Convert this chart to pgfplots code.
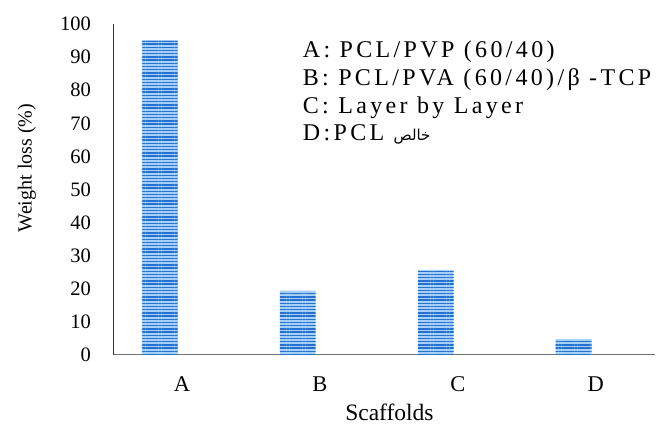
\documentclass[border=0pt]{standalone}
\usepackage{pgfplots}
\pgfplotsset{compat=1.18}
\usetikzlibrary{patterns.meta}
\usepackage{fontspec}
\setmainfont{Liberation Serif}
\newfontfamily\legfont[LetterSpace=14]{Liberation Serif}
\newfontfamily\arabicfont[Script=Arabic]{DejaVu Sans}
\TeXXeTstate=1
\definecolor{barlight}{HTML}{A6D0F5}
\definecolor{bardark}{HTML}{2470CC}

\begin{document}
\begin{tikzpicture}
  \begin{axis}[
      scale only axis,
      width=542pt, height=331pt,
      ybar,
      bar width=0.26,
      bar shift=-0.16,
      xmin=-0.5, xmax=3.43,
      ymin=0, ymax=100,
      xtick={0,1,2,3},
      xticklabels={A,B,C,D},
      ytick={0,10,...,100},
      axis x line=bottom, axis y line=left,
      x axis line style={-, draw=black!55, line width=1pt},
      y axis line style={-, draw=black!80, line width=0.8pt},
      major tick length=0pt,
      /pgf/number format/assume math mode=true,
      yticklabel style={anchor=east, inner sep=0pt, xshift=-22pt,
        font=\fontsize{20.5}{24}\selectfont},
      xticklabel style={anchor=base, inner sep=0pt, yshift=-37pt,
        font=\fontsize{22.5}{26}\selectfont},
      xlabel={Scaffolds},
      ylabel={Weight loss (\%)},
      every axis x label/.style={at={(axis description cs:0.51,-0.146)}, anchor=north,
        inner sep=0pt, font=\fontsize{23.5}{27}\selectfont},
      every axis y label/.style={at={(axis description cs:-0.159,0.565)}, rotate=90,
        anchor=center, inner sep=0pt, font=\fontsize{20}{24}\selectfont},
    ]
    \addplot[draw=none, fill=barlight,
      postaction={pattern={Lines[angle=0, distance=3.2pt, line width=1.4pt]}, pattern color=bardark}]
      coordinates {(0,95) (1,19.4) (2,25.7) (3,4.8)};
    \node[anchor=north west, inner sep=0pt, align=left,
      font=\legfont\fontsize{24}{27.7}\selectfont]
      at (axis description cs:0.35,0.949)
      {A: PCL/PVP (60/40)\\
       B: PCL/PVA (60/40)/β -TCP\\
       C: Layer by Layer\\
       D:PCL {\arabicfont\fontsize{15}{20}\selectfont\beginR خالص\endR}};
  \end{axis}
  \pgfresetboundingbox
  \path (current axis.south west) ++(-113pt,-70pt) rectangle ++(656pt,425pt);
\end{tikzpicture}
\end{document}
